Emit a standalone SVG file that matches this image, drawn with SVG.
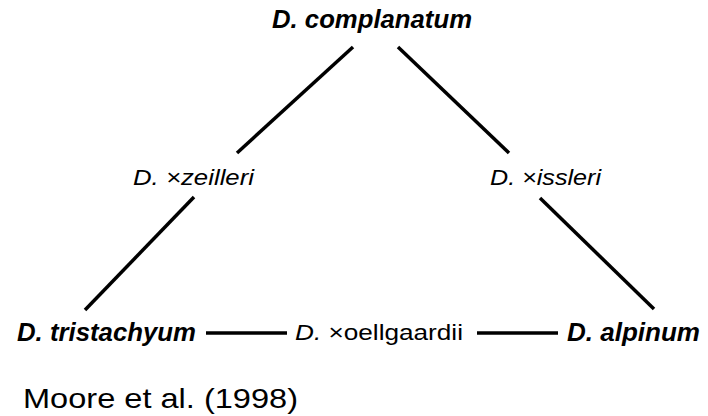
<svg xmlns="http://www.w3.org/2000/svg" width="708" height="416" viewBox="0 0 708 416">
<style>
text{font-family:"Liberation Sans",Arial,sans-serif;fill:#000}
.sp{font-size:25px;font-weight:bold;font-style:italic}
.hy{font-size:22px;font-style:italic}
.rg{font-style:normal}
.cap{font-size:28px}
.ln{stroke:#000;stroke-width:3.5;fill:none}
</style>
<rect width="708" height="416" fill="#fff"/>
<g id="connectors">
<line class="ln" x1="353" y1="47" x2="237" y2="153"/>
<line class="ln" x1="398" y1="47" x2="509" y2="153"/>
<line class="ln" x1="194" y1="197" x2="85" y2="310"/>
<line class="ln" x1="540" y1="198" x2="654" y2="309"/>
<line class="ln" x1="206" y1="333" x2="287" y2="333"/>
<line class="ln" x1="477" y1="333" x2="558" y2="333"/>
</g>
<g id="complanatum"><text class="sp" x="272" y="28" textLength="200" lengthAdjust="spacingAndGlyphs">D. complanatum</text></g>
<g id="zeilleri"><text class="hy" x="133" y="185" textLength="121" lengthAdjust="spacingAndGlyphs">D. ×zeilleri</text></g>
<g id="issleri"><text class="hy" x="490" y="185" textLength="111" lengthAdjust="spacingAndGlyphs">D. ×issleri</text></g>
<g id="tristachyum"><text class="sp" x="17" y="341" textLength="179" lengthAdjust="spacingAndGlyphs">D. tristachyum</text></g>
<g id="oellgaardii"><text class="hy" x="295" y="340" textLength="168" lengthAdjust="spacingAndGlyphs">D. <tspan class="rg">×oellgaardii</tspan></text></g>
<g id="alpinum"><text class="sp" x="567" y="341" textLength="133" lengthAdjust="spacingAndGlyphs">D. alpinum</text></g>
<text class="cap" x="23" y="408" textLength="275" lengthAdjust="spacingAndGlyphs">Moore et al. (1998)</text>
</svg>
